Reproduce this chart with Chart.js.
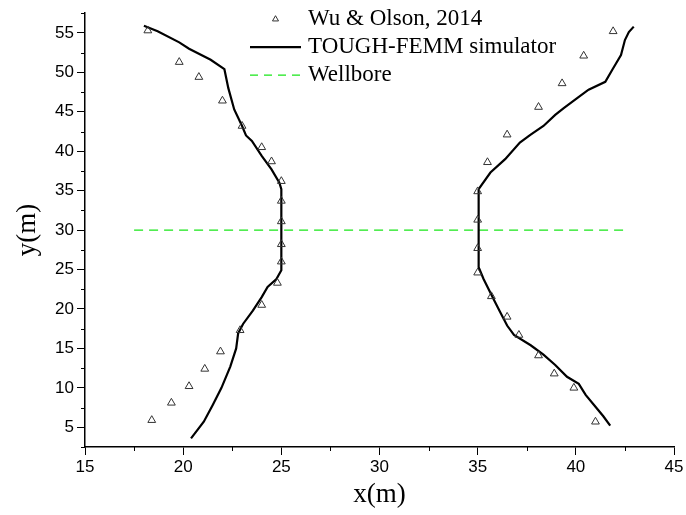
<!DOCTYPE html>
<html>
<head>
<meta charset="utf-8">
<script src="https://cdn.jsdelivr.net/npm/chart.js@4"></script>
<style>
  html, body { margin: 0; padding: 0; background: #fff; }
  canvas { display: block; }
</style>
</head>
<body>
<canvas id="grafico" width="686" height="515"></canvas>
<script>
// Wu & Olson, 2014 (triangulos)
const wuLeftX = [18.2, 19.8, 20.8, 22.0, 23.0, 24.0, 24.5, 25.0, 25.0, 25.0, 25.0, 25.0, 24.8, 24.0, 22.9, 21.9, 21.1, 20.3, 19.4, 18.4];
const wuLeftY = [55.3, 51.3, 49.4, 46.4, 43.2, 40.5, 38.7, 36.2, 33.7, 31.1, 28.2, 26.0, 23.3, 20.5, 17.3, 14.6, 12.4, 10.2, 8.1, 5.9];
const wuRightX = [41.9, 40.4, 39.3, 38.1, 36.5, 35.5, 35.0, 35.0, 35.0, 35.0, 35.7, 36.5, 37.1, 38.1, 38.9, 39.9, 41.0];
const wuRightY = [55.2, 52.1, 48.6, 45.6, 42.1, 38.6, 34.9, 31.3, 27.7, 24.6, 21.6, 19.0, 16.7, 14.1, 11.8, 10.0, 5.7];

// TOUGH-FEMM simulator (linea negra)
const simLeftX = [18.0, 18.7, 19.8, 20.3, 21.4, 22.1, 22.3, 22.6, 23.0, 23.2, 23.5, 24.0, 24.5, 24.9, 25.0, 25.0, 24.75, 24.3, 24.0, 23.55, 23.05, 22.8, 22.7, 22.4, 21.95, 21.5, 21.05, 20.4];
const simLeftY = [55.9, 55.2, 53.8, 53.0, 51.6, 50.4, 48.0, 45.3, 43.2, 42.0, 41.3, 39.4, 37.7, 36.0, 35.2, 24.9, 23.8, 22.8, 21.5, 19.8, 18.1, 16.9, 15.0, 12.7, 10.0, 7.8, 5.7, 3.6];
const simRightX = [42.95, 42.7, 42.5, 42.3, 41.85, 41.5, 40.65, 40.05, 39.4, 38.95, 38.35, 37.7, 37.15, 36.4, 35.65, 35.05, 35.05, 35.3, 35.8, 36.15, 36.5, 36.85, 37.7, 38.35, 38.95, 39.55, 40.15, 40.5, 41.0, 41.4, 41.75];
const simRightY = [55.8, 55.1, 54.1, 52.2, 50.3, 48.8, 47.8, 46.7, 45.5, 44.6, 43.2, 42.1, 41.1, 39.0, 37.3, 35.2, 25.3, 23.8, 21.3, 19.6, 17.9, 16.7, 15.4, 14.2, 12.9, 11.4, 10.5, 9.1, 7.6, 6.4, 5.2];

// Wellbore (linea verde discontinua)
const wellboreX = [17.5, 42.5];
const wellboreY = [30, 30];

// ejes
const xMin = 15, xMax = 45, yMin = 2.5, yMax = 57.5, paso = 2.5;

function juntar(xs, ys) {
  return xs.map((x, i) => ({ x: x, y: ys[i] }));
}

const verde = '#19e619';
const tri = { pointStyle: 'triangle', pointRadius: 4.5, borderColor: '#333', backgroundColor: 'rgba(0,0,0,0)', borderWidth: 1, showLine: false };

// ticks menores (mas cortos) y leyenda dentro del grafico
const extras = {
  id: 'extras',
  afterDraw(chart) {
    const c = chart.ctx;
    const xs = chart.scales.x, ys = chart.scales.y;
    c.save();
    c.strokeStyle = '#000';
    c.lineWidth = 1;
    xs.ticks.forEach(t => {
      if (t.value % 5 !== 0) {
        const px = Math.round(xs.getPixelForValue(t.value)) + 0.5;
        c.beginPath(); c.moveTo(px, xs.top); c.lineTo(px, xs.top + 4); c.stroke();
      }
    });
    ys.ticks.forEach(t => {
      if (t.value % 5 !== 0) {
        const py = Math.round(ys.getPixelForValue(t.value)) + 0.5;
        c.beginPath(); c.moveTo(ys.right, py); c.lineTo(ys.right - 4, py); c.stroke();
      }
    });

    // leyenda
    const a = chart.chartArea;
    const lx0 = a.left + 165, lx1 = a.left + 216, tx = a.left + 223;
    const filas = [a.top + 6, a.top + 34, a.top + 62];
    c.font = '23px "Liberation Serif", "Times New Roman", serif';
    c.fillStyle = '#000';
    c.textBaseline = 'middle';
    c.textAlign = 'left';
    const ds = chart.data.datasets;

    // triangulo
    const cx = (lx0 + lx1) / 2, cy = filas[0], r = 3.5;
    c.strokeStyle = '#333';
    c.beginPath();
    c.moveTo(cx, cy - r);
    c.lineTo(cx + r * 0.866, cy + r * 0.5);
    c.lineTo(cx - r * 0.866, cy + r * 0.5);
    c.closePath();
    c.stroke();
    c.fillText(ds[0].label, tx, cy);

    c.strokeStyle = '#000';
    c.lineWidth = 2.2;
    c.beginPath(); c.moveTo(lx0, filas[1]); c.lineTo(lx1, filas[1]); c.stroke();
    c.fillText(ds[2].label, tx, filas[1]);

    c.strokeStyle = verde;
    c.lineWidth = 1.3;
    c.setLineDash([8, 6]);
    c.beginPath(); c.moveTo(lx0, filas[2]); c.lineTo(lx1, filas[2]); c.stroke();
    c.setLineDash([]);
    c.fillText(ds[4].label, tx, filas[2]);
    c.restore();
  }
};

const fuenteTicks = { family: '"Liberation Sans", Arial, sans-serif', size: 17 };
const fuenteTitulo = { family: '"Liberation Serif", "Times New Roman", serif', size: 27 };

new Chart(document.getElementById('grafico'), {
  type: 'scatter',
  data: {
    datasets: [
      Object.assign({ label: 'Wu & Olson, 2014', data: juntar(wuLeftX, wuLeftY) }, tri),
      Object.assign({ label: 'Wu & Olson, 2014', data: juntar(wuRightX, wuRightY) }, tri),
      { label: 'TOUGH-FEMM simulator', data: juntar(simLeftX, simLeftY), showLine: true, pointRadius: 0, borderColor: '#000', borderWidth: 2.2, tension: 0 },
      { label: 'TOUGH-FEMM simulator', data: juntar(simRightX, simRightY), showLine: true, pointRadius: 0, borderColor: '#000', borderWidth: 2.2, tension: 0 },
      { label: 'Wellbore', data: juntar(wellboreX, wellboreY), showLine: true, pointRadius: 0, borderColor: verde, borderWidth: 1.3, borderDash: [9, 6] }
    ]
  },
  options: {
    responsive: false,
    animation: false,
    layout: { padding: { top: 11, right: 12, left: 0, bottom: 0 } },
    plugins: { legend: { display: false }, tooltip: { enabled: false } },
    scales: {
      x: {
        type: 'linear', min: xMin, max: xMax,
        afterFit: s => { s.height = 68; },
        ticks: { stepSize: paso, autoSkip: false, maxRotation: 0, color: '#000', font: fuenteTicks, padding: 2,
          callback: v => (v % 5 === 0 ? v : '') },
        grid: { drawOnChartArea: false, tickLength: 8, tickWidth: 1,
          color: ctx => (ctx.tick && ctx.tick.value % 5 === 0 ? '#000' : 'rgba(0,0,0,0)') },
        border: { color: '#000', width: 1.5 },
        title: { display: true, text: 'x(m)', color: '#000', font: fuenteTitulo, padding: { top: 0, bottom: 4 } }
      },
      y: {
        type: 'linear', min: yMin, max: yMax,
        afterFit: s => { s.width = 85; },
        ticks: { stepSize: paso, autoSkip: false, color: '#000', font: fuenteTicks, padding: 3,
          callback: v => (v % 5 === 0 ? v : '') },
        grid: { drawOnChartArea: false, tickLength: 8, tickWidth: 1,
          color: ctx => (ctx.tick && ctx.tick.value % 5 === 0 ? '#000' : 'rgba(0,0,0,0)') },
        border: { color: '#000', width: 1.5 },
        title: { display: true, text: 'y(m)', color: '#000', font: fuenteTitulo, padding: { top: 12, bottom: 0 } }
      }
    }
  },
  plugins: [extras]
});
</script>
</body>
</html>
